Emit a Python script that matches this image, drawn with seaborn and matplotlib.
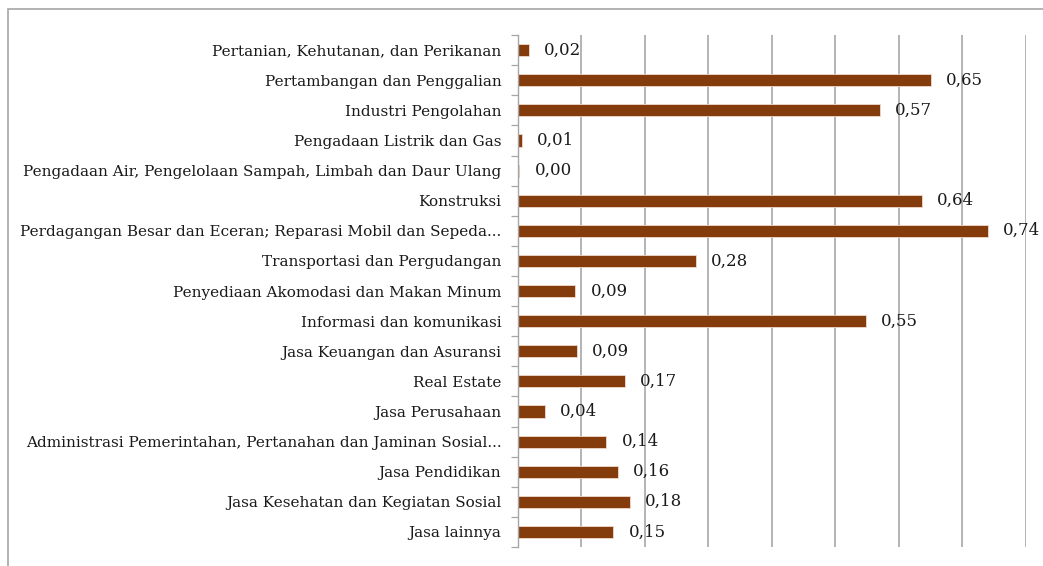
import matplotlib
matplotlib.use("Agg")
import matplotlib.pyplot as plt
import seaborn as sns
import pandas as pd
from matplotlib.patches import Rectangle
from matplotlib.ticker import MultipleLocator, FixedLocator

sectors = [
    "Pertanian, Kehutanan, dan Perikanan",
    "Pertambangan dan Penggalian",
    "Industri Pengolahan",
    "Pengadaan Listrik dan Gas",
    "Pengadaan Air, Pengelolaan Sampah, Limbah dan Daur Ulang",
    "Konstruksi",
    "Perdagangan Besar dan Eceran; Reparasi Mobil dan Sepeda...",
    "Transportasi dan Pergudangan",
    "Penyediaan Akomodasi dan Makan Minum",
    "Informasi dan komunikasi",
    "Jasa Keuangan dan Asuransi",
    "Real Estate",
    "Jasa Perusahaan",
    "Administrasi Pemerintahan, Pertanahan dan Jaminan Sosial...",
    "Jasa Pendidikan",
    "Jasa Kesehatan dan Kegiatan Sosial",
    "Jasa lainnya",
]
values = [0.017, 0.650, 0.570, 0.006, 0.002, 0.636, 0.740, 0.280, 0.090,
          0.548, 0.093, 0.168, 0.042, 0.139, 0.157, 0.176, 0.150]
value_labels = ["0,02", "0,65", "0,57", "0,01", "0,00", "0,64", "0,74", "0,28", "0,09",
                "0,55", "0,09", "0,17", "0,04", "0,14", "0,16", "0,18", "0,15"]

df = pd.DataFrame({"sector": sectors, "value": values})

sns.set_theme(style="white")
plt.rcParams["font.family"] = ["DejaVu Serif", "Liberation Serif"]

fig = plt.figure(figsize=(10.43, 5.66), dpi=100)
ax = fig.add_axes([0.4966, 0.0336, 0.9837 - 0.4966, 0.938 - 0.0336])

# outer chart frame
fig.patches.append(Rectangle((8 / 1043, -0.05), 1.1, 1 - 9 / 566 + 0.05,
                             transform=fig.transFigure, fill=False,
                             edgecolor="#a6a6a6", linewidth=1.2))

sns.barplot(data=df, y="sector", x="value", orient="h", color="#843C0C",
            saturation=1, width=0.4, edgecolor="#f2d9cc", linewidth=0.6, ax=ax)

ax.bar_label(ax.containers[0], labels=value_labels, padding=11, fontsize=12,
             color="#1a1a1a")

ax.set_xlim(0, 0.8)
ax.set_ylim(len(sectors) - 0.5, -0.5)
ax.xaxis.set_major_locator(MultipleLocator(0.1))
ax.set_xticklabels([])
ax.tick_params(axis="x", length=0)
ax.grid(axis="x", color="#b3b3b3", linewidth=1.4)
ax.set_axisbelow(True)

ax.yaxis.set_minor_locator(FixedLocator([i - 0.5 for i in range(len(sectors) + 1)]))
ax.tick_params(axis="y", which="major", length=0, pad=12, labelsize=11,
               labelcolor="#1a1a1a")
ax.tick_params(axis="y", which="minor", length=5, width=0.9, color="#a6a6a6", left=True)

for side in ["top", "right", "bottom"]:
    ax.spines[side].set_visible(False)
ax.spines["left"].set_color("#a6a6a6")
ax.spines["left"].set_linewidth(1.0)
ax.set_xlabel("")
ax.set_ylabel("")

fig.savefig("out.png", dpi=100)
